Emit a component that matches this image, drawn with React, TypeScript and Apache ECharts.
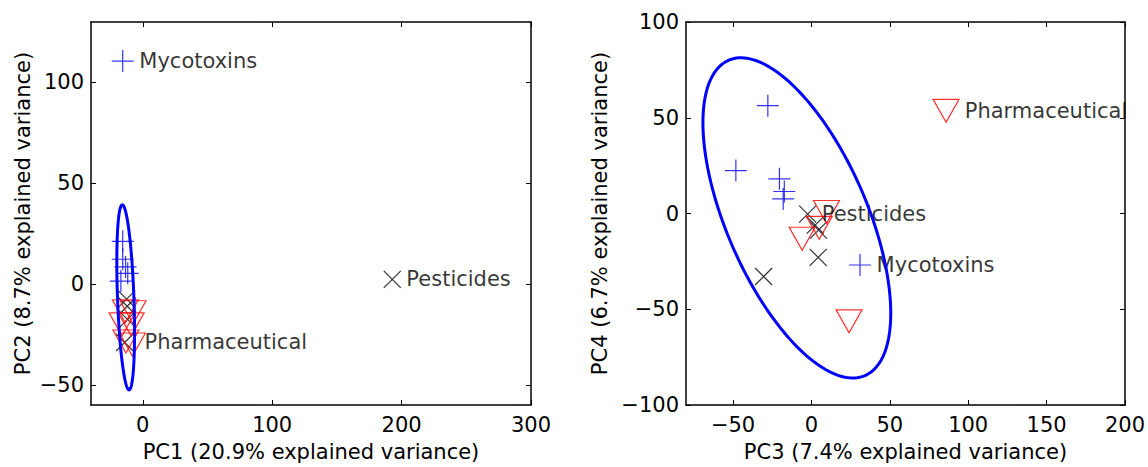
import React, { useEffect, useRef } from "react";
import * as echarts from "echarts";

const FONT = "DejaVu Sans";
const FS = 21;

// ---------- Left panel: PC1 vs PC2 ----------
const pc1Ticks = [0, 100, 200, 300];
const pc2Ticks = [-50, 0, 50, 100];
const pc12Mycotoxins = [[-15.5, 110.6], [-15.5, 21.2], [-15.5, 12.3], [-13.3, 8.5], [-11.6, 5.3], [-16.9, 1.5]];
const pc12Pesticides = [[192.8, 2.3], [-12.5, -7.5], [-12, -11], [-11.8, -17.5], [-14, -29]];
const pc12Pharma = [[-13, -28.5], [-13.5, -13.5], [-7.5, -14], [-16, -20], [-9, -20], [-8, -30]];
// [cx, cy, sx, sy, rho]
const pc12Ellipse = [-13.2, -6.6, 6.85, 45.9, -0.38];

// ---------- Right panel: PC3 vs PC4 ----------
const pc3Ticks = [-50, 0, 50, 100, 150, 200];
const pc4Ticks = [-100, -50, 0, 50, 100];
const pc34Mycotoxins = [[31, -26.9], [-27.8, 56.3], [-48.2, 22.4], [-20.4, 18.1], [-17.3, 11.5], [-18, 7.6]];
const pc34Pesticides = [[-2.4, -0.3], [2.4, -6.1], [4.5, -8.7], [4.3, -22.9], [-30.5, -32.9]];
const pc34Pharma = [[85.9, 53.6], [9.6, 0.8], [5, -7.5], [-5.9, -13.2], [24, -56.3]];
const pc34Ellipse = [-9.3, -2.3, 59.9, 83.6, -0.595];

const groupNames = ["Mycotoxins", "Pesticides", "Pharmaceutical"];

const PLUS = "path://M0,1 L2,1 M1,0 L1,2";
const CROSS = "path://M0,0 L2,2 M2,0 L0,2";
const TRI = "path://M0,0 L2,0 L1,1.77 Z";

const fmt = (v: number) => (v < 0 ? "\u2212" + Math.abs(v) : String(v));

function xAxes(grid: number, min: number, max: number, ticks: number[], name: string) {
  const line = { show: true, onZero: false, lineStyle: { color: "#000", width: 1.5 } };
  const tick = { show: true, inside: true, length: 5, customValues: ticks, lineStyle: { color: "#000", width: 1 } };
  return [
    {
      type: "value", gridIndex: grid, min, max, position: "bottom",
      axisLine: line, axisTick: tick, splitLine: { show: false },
      axisLabel: { customValues: ticks, formatter: fmt, fontSize: FS, fontFamily: FONT, color: "#000", margin: 9 },
      name, nameLocation: "middle", nameGap: 36,
      nameTextStyle: { fontSize: FS, fontFamily: FONT, color: "#000" },
    },
    {
      type: "value", gridIndex: grid, min, max, position: "top",
      axisLine: line, axisTick: tick, splitLine: { show: false }, axisLabel: { show: false },
    },
  ];
}

function yAxes(grid: number, min: number, max: number, ticks: number[], name: string, gap: number) {
  const line = { show: true, onZero: false, lineStyle: { color: "#000", width: 1.5 } };
  const tick = { show: true, inside: true, length: 5, customValues: ticks, lineStyle: { color: "#000", width: 1 } };
  return [
    {
      type: "value", gridIndex: grid, min, max, position: "left",
      axisLine: line, axisTick: tick, splitLine: { show: false },
      axisLabel: { customValues: ticks, formatter: fmt, fontSize: FS, fontFamily: FONT, color: "#000", margin: 7 },
      name, nameLocation: "middle", nameGap: gap,
      nameTextStyle: { fontSize: FS, fontFamily: FONT, color: "#000" },
    },
    {
      type: "value", gridIndex: grid, min, max, position: "right",
      axisLine: line, axisTick: tick, splitLine: { show: false }, axisLabel: { show: false },
    },
  ];
}

function scatter(axisIdx: number, data: number[][], symbol: string, size: number[], color: string, labelText: string, labelIdx: number) {
  return {
    type: "scatter",
    xAxisIndex: axisIdx, yAxisIndex: axisIdx,
    symbol, symbolSize: size,
    itemStyle: { color: "transparent", borderColor: color, borderWidth: 1.2 },
    data: data.map((p, i) =>
      i === labelIdx
        ? {
            value: p,
            label: {
              show: true, formatter: labelText, position: "right", distance: 5,
              fontSize: FS, fontFamily: FONT, color: "#000",
            },
          }
        : { value: p }
    ),
    emphasis: { disabled: true },
    z: 3,
  };
}

function ellipse(axisIdx: number, params: number[]) {
  return {
    type: "custom",
    xAxisIndex: axisIdx, yAxisIndex: axisIdx,
    data: [params],
    encode: { x: 0, y: 1 },
    z: 5,
    renderItem: (_p: any, api: any) => {
      const cx = api.value(0), cy = api.value(1), sx = api.value(2), sy = api.value(3), rho = api.value(4);
      const k = Math.sqrt(1 - rho * rho);
      const pts: number[][] = [];
      for (let i = 0; i <= 180; i++) {
        const t = (i / 180) * Math.PI * 2;
        const x = cx + sx * Math.cos(t);
        const y = cy + sy * (rho * Math.cos(t) + k * Math.sin(t));
        pts.push(api.coord([x, y]));
      }
      return {
        type: "polyline",
        shape: { points: pts },
        style: { stroke: "#0000ff", lineWidth: 3, fill: "none" },
      };
    },
  };
}

export default function App() {
  const ref = useRef<HTMLDivElement>(null);
  useEffect(() => {
    if (!ref.current) return;
    const chart = echarts.init(ref.current, undefined, { renderer: "svg" });
    chart.setOption({
      animation: false,
      backgroundColor: "#fff",
      grid: [
        { left: 91, top: 22, width: 440, height: 386 },
        { left: 686, top: 22, width: 439, height: 385 },
      ],
      xAxis: [
        ...xAxes(0, -40, 300, pc1Ticks, "PC1 (20.9% explained variance)"),
        ...xAxes(1, -80, 200, pc3Ticks, "PC3 (7.4% explained variance)"),
      ],
      yAxis: [
        ...yAxes(0, -60, 130, pc2Ticks, "PC2 (8.7% explained variance)", 58),
        ...yAxes(1, -100, 100, pc4Ticks, "PC4 (6.7% explained variance)", 76),
      ],
      series: [
        scatter(0, pc12Mycotoxins, PLUS, [22, 22], "#0000ff", groupNames[0], 0),
        scatter(0, pc12Pesticides, CROSS, [17, 17], "#000000", groupNames[1], 0),
        scatter(0, pc12Pharma, TRI, [26, 23], "#ff0000", groupNames[2], 0),
        ellipse(0, pc12Ellipse),
        scatter(2, pc34Mycotoxins, PLUS, [22, 22], "#0000ff", groupNames[0], 0),
        scatter(2, pc34Pesticides, CROSS, [17, 17], "#000000", groupNames[1], 0),
        scatter(2, pc34Pharma, TRI, [26, 23], "#ff0000", groupNames[2], 0),
        ellipse(2, pc34Ellipse),
      ],
    });
    return () => chart.dispose();
  }, []);
  return <div ref={ref} style={{ position: "absolute", left: 0, top: 0, width: 1148, height: 467 }} />;
}
